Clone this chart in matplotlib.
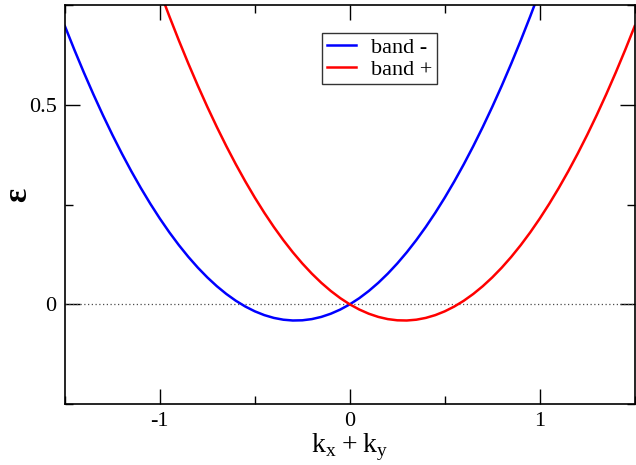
import matplotlib
matplotlib.use('Agg')
import matplotlib.pyplot as plt
from matplotlib.ticker import MultipleLocator

plt.rcParams['font.family'] = ['Liberation Serif', 'DejaVu Serif']
plt.rcParams['mathtext.fontset'] = 'custom'
plt.rcParams['mathtext.rm'] = 'Liberation Serif'

# band values
k_minus = [-1.5, -1.45, -1.4, -1.35, -1.3, -1.25, -1.2, -1.15, -1.1, -1.05,
           -1.0, -0.95, -0.9, -0.85, -0.8, -0.75, -0.7, -0.65, -0.6, -0.55,
           -0.5, -0.45, -0.4, -0.35, -0.3, -0.25, -0.2, -0.15, -0.1, -0.05,
           0.0, 0.05, 0.1, 0.15, 0.2, 0.25, 0.3, 0.35, 0.4, 0.45, 0.5, 0.55,
           0.6, 0.65, 0.7, 0.75, 0.8, 0.85, 0.9, 0.95, 1.0, 1.05]
e_minus = [0.6975, 0.638, 0.581, 0.5265, 0.4745, 0.425, 0.378, 0.3335,
           0.2915, 0.252, 0.215, 0.1805, 0.1485, 0.119, 0.092, 0.0675,
           0.0455, 0.026, 0.009, -0.0055, -0.0175, -0.027, -0.034, -0.0385,
           -0.0405, -0.04, -0.037, -0.0315, -0.0235, -0.013, 0.0, 0.0155,
           0.0335, 0.054, 0.077, 0.1025, 0.1305, 0.161, 0.194, 0.2295,
           0.2675, 0.308, 0.351, 0.3965, 0.4445, 0.495, 0.548, 0.6035,
           0.6615, 0.722, 0.785, 0.8505]
k_plus = [-1.05, -1.0, -0.95, -0.9, -0.85, -0.8, -0.75, -0.7, -0.65, -0.6,
          -0.55, -0.5, -0.45, -0.4, -0.35, -0.3, -0.25, -0.2, -0.15, -0.1,
          -0.05, 0.0, 0.05, 0.1, 0.15, 0.2, 0.25, 0.3, 0.35, 0.4, 0.45, 0.5,
          0.55, 0.6, 0.65, 0.7, 0.75, 0.8, 0.85, 0.9, 0.95, 1.0, 1.05, 1.1,
          1.15, 1.2, 1.25, 1.3, 1.35, 1.4, 1.45, 1.5]
e_plus = [0.8505, 0.785, 0.722, 0.6615, 0.6035, 0.548, 0.495, 0.4445,
          0.3965, 0.351, 0.308, 0.2675, 0.2295, 0.194, 0.161, 0.1305,
          0.1025, 0.077, 0.054, 0.0335, 0.0155, 0.0, -0.013, -0.0235,
          -0.0315, -0.037, -0.04, -0.0405, -0.0385, -0.034, -0.027, -0.0175,
          -0.0055, 0.009, 0.026, 0.0455, 0.0675, 0.092, 0.119, 0.1485,
          0.1805, 0.215, 0.252, 0.2915, 0.3335, 0.378, 0.425, 0.4745,
          0.5265, 0.581, 0.638, 0.6975]

fig = plt.figure(figsize=(6.36, 4.65), dpi=100)
ax = fig.add_axes([0.102, 0.131, 0.896, 0.858])

ax.axhline(0, color='0.3', lw=0.9, ls=(0, (1, 2)))
ax.plot(k_minus, e_minus, color='#0000ff', lw=1.8, label='band -')
ax.plot(k_plus, e_plus, color='#ff0000', lw=1.8, label='band +')

ax.set_xlim(-1.5, 1.5)
ax.set_ylim(-0.25, 0.75)
ax.xaxis.set_minor_locator(MultipleLocator(0.5))
ax.yaxis.set_minor_locator(MultipleLocator(0.25))
ax.set_xticks([-1, 0, 1])
ax.set_xticklabels(['-1', '0', '1'])
ax.set_yticks([0, 0.5])
ax.set_yticklabels(['0', '0.5'])
ax.tick_params(which='both', direction='in', top=True, right=True, labelsize=16, width=1)
ax.tick_params(which='major', length=11, pad=6)
ax.tick_params(which='minor', length=6)
for s in ax.spines.values():
    s.set_linewidth(1.2)

ax.set_xlabel(r'$\mathrm{k}_\mathrm{x}+\mathrm{k}_\mathrm{y}$', fontsize=20, labelpad=0)
fig.text(0.028, 0.58, 'ε', fontsize=24, fontweight='bold', rotation=90,
         ha='center', va='center')

leg = ax.legend(loc='upper left', bbox_to_anchor=(0.452, 0.930), fontsize=16,
                frameon=True, fancybox=False, handlelength=1.3, borderpad=0.2,
                labelspacing=0.05, handletextpad=0.7, borderaxespad=0)
leg.get_frame().set_edgecolor('black')
leg.get_frame().set_linewidth(1.0)

fig.savefig('out.png', dpi=100)
